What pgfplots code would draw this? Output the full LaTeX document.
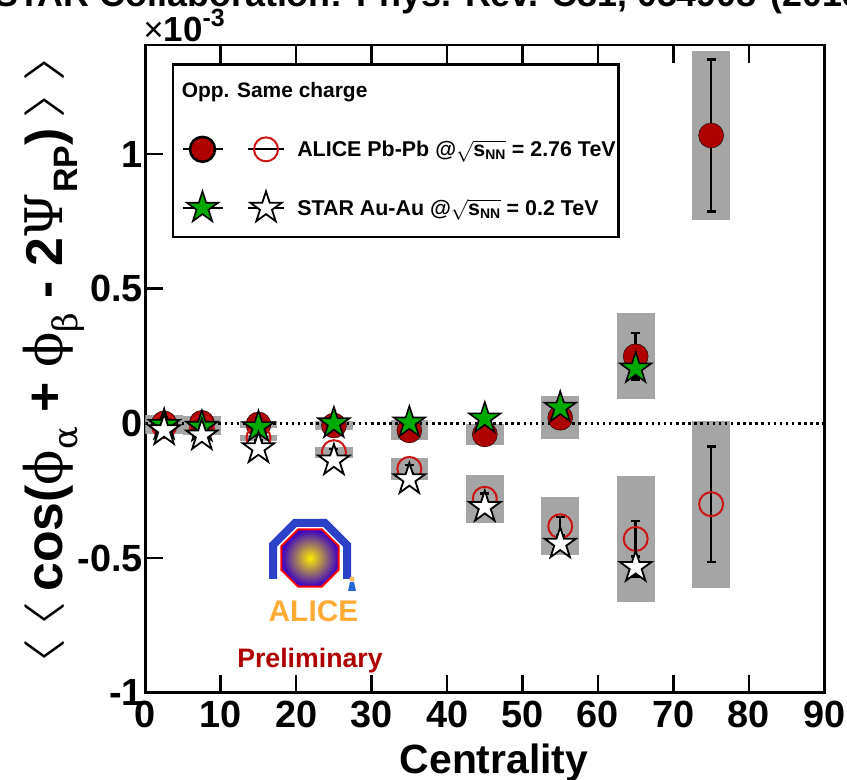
\documentclass[border=0pt]{standalone}
\usepackage{graphicx}
\usepackage{fontspec}
\setmainfont{Liberation Sans}
\newfontfamily\grk{DejaVu Serif}
\usepackage{pgfplots}
\pgfplotsset{compat=1.18}
\usepackage{pgfplotstable}

\definecolor{darkred}{RGB}{175,0,0}
\definecolor{openred}{RGB}{205,20,20}
\definecolor{stargreen}{RGB}{0,170,0}
\definecolor{sysgray}{RGB}{165,165,165}
\definecolor{aliceorange}{RGB}{255,172,55}
\definecolor{aliceblue}{RGB}{45,65,200}

\pgfdeclareplotmark{fstar}{%
  \pgfpathmoveto{\pgfpointpolar{90}{\pgfplotmarksize}}%
  \pgfpathlineto{\pgfpointpolar{126}{0.382\pgfplotmarksize}}%
  \pgfpathlineto{\pgfpointpolar{162}{\pgfplotmarksize}}%
  \pgfpathlineto{\pgfpointpolar{198}{0.382\pgfplotmarksize}}%
  \pgfpathlineto{\pgfpointpolar{234}{\pgfplotmarksize}}%
  \pgfpathlineto{\pgfpointpolar{270}{0.382\pgfplotmarksize}}%
  \pgfpathlineto{\pgfpointpolar{306}{\pgfplotmarksize}}%
  \pgfpathlineto{\pgfpointpolar{342}{0.382\pgfplotmarksize}}%
  \pgfpathlineto{\pgfpointpolar{18}{\pgfplotmarksize}}%
  \pgfpathlineto{\pgfpointpolar{54}{0.382\pgfplotmarksize}}%
  \pgfpathclose
  \pgfusepathqfillstroke}

% ALICE, opposite charge (filled circles): centrality, value, stat, sys (units 1e-3)
\pgfplotstableread{
c y stat sys
2.5 0.000 0.010 0.030
7.5 0.002 0.010 0.025
15 -0.004 0.010 0.012
25 -0.008 0.012 0.015
35 -0.026 0.015 0.037
45 -0.041 0.020 0.040
55 0.021 0.035 0.080
65 0.249 0.087 0.160
75 1.069 0.282 0.313
}\aliceopp
% ALICE, same charge (open circles)
\pgfplotstableread{
c y stat sys
2.5 -0.010 0.010 0.030
7.5 -0.017 0.010 0.025
15 -0.054 0.010 0.012
25 -0.107 0.012 0.020
35 -0.169 0.015 0.040
45 -0.280 0.020 0.090
55 -0.382 0.035 0.107
65 -0.429 0.066 0.234
75 -0.300 0.214 0.310
}\alicesame
% STAR, opposite charge (green stars)
\pgfplotstableread{
c y stat
2.5 -0.006 0.005
7.5 -0.013 0.005
15 -0.014 0.006
25 0.000 0.008
35 0.003 0.010
45 0.018 0.013
55 0.058 0.020
65 0.204 0.035
}\staropp
% STAR, same charge (open stars)
\pgfplotstableread{
c y stat
2.5 -0.026 0.005
7.5 -0.045 0.005
15 -0.093 0.006
25 -0.138 0.008
35 -0.208 0.010
45 -0.311 0.013
55 -0.447 0.020
65 -0.534 0.037
}\starsame

\pgfplotsset{
  mkAopp/.style={only marks, mark=*, mark size=12.5bp, mark options={draw=none, fill=darkred}},
  mkAsame/.style={only marks, mark=o, mark size=12bp, mark options={draw=openred, line width=2bp, fill=none}},
  mkSopp/.style={only marks, mark=fstar, mark size=16.5bp, mark options={draw=black, line width=1.6bp, fill=stargreen}},
  mkSsame/.style={only marks, mark=fstar, mark size=16.5bp, mark options={draw=black, line width=1.8bp, fill=white}},
  errst/.style={draw=none, mark=none, forget plot,
     error bars/.cd, y dir=both, y explicit, error mark=-,
     error bar style={draw=black, solid, line width=2.5bp},
     error mark options={draw=black, solid, line width=2.5bp, mark size=4.5bp, rotate=90}},
  legH/.style={legend image code/.code={\path (0bp,-28bp) (67bp,25bp);
     \node[overlay, anchor=base west, inner sep=0pt, font=\fontsize{21}{24}\selectfont\bfseries] at (3.3bp,-6.5bp) {Opp. Same charge};}},
  legE/.style={legend image code/.code={\path (0bp,-28bp) (48.3bp,25bp);}},
  legA/.style={legend image code/.code={\path (0bp,-28bp) (67bp,28bp);
     \draw[black, solid, line width=2bp] (5.3bp,0bp) -- (45.3bp,0bp);
     \draw[##1] plot coordinates {(25.3bp,0bp)};}},
  legB/.style={legend image code/.code={\path (0bp,-28bp) (48.3bp,28bp);
     \draw[black, solid, line width=2bp] (0bp,0bp) -- (36.3bp,0bp);
     \draw[##1] plot coordinates {(18.3bp,0bp)};}},
}

\newcommand\gk[1]{{\grk\mdseries #1}}
\newcommand\lsub[1]{\raisebox{-0.3em}{\fontsize{34}{34}\selectfont #1}}
\newcommand\chev[1]{\raisebox{0.15em}{\scalebox{3.0}[1.6]{\mdseries$#1$}}}

\begin{document}
\begin{tikzpicture}
\begin{axis}[
  at={(0bp,0bp)}, anchor=south west,
  scale only axis, width=679bp, height=647.7bp,
  xmin=0, xmax=90, ymin=-1, ymax=1.405,
  xtick={0,10,20,30,40,50,60,70,80,90},
  xticklabels={0,10,20,30,40,50,60,70,80,90},
  ytick={-1,-0.5,0,0.5,1},
  yticklabels={-1,-0.5,0,0.5,1},
  minor tick num=0,
  tick align=inside, major tick length=18bp,
  xtick pos=both, ytick pos=left,
  axis line style={line width=2.5bp},
  every tick/.style={black, line width=2.5bp},
  ticklabel style={font=\fontsize{38}{40}\selectfont\bfseries},
  xticklabel style={yshift=-5bp},
  yticklabel style={xshift=1bp},
  legend columns=2,
  legend cell align=left,
  legend style={at={(rel axis cs:0.0389,0.9717)}, anchor=north west,
     draw=black, line width=2.5bp, fill=white,
     inner xsep=3bp, inner ysep=0bp, row sep=0pt, column sep=0pt,
     nodes={inner sep=0pt},
     font=\fontsize{21.5}{24}\selectfont\bfseries},
]
% systematic boxes
\addplot[draw=none, mark=none, forget plot, error bars/.cd, y dir=both, y explicit, error mark=none,
   error bar style={draw=sysgray, solid, line width=37.7bp}] table[x=c, y=y, y error=sys] {\aliceopp};
\addplot[draw=none, mark=none, forget plot, error bars/.cd, y dir=both, y explicit, error mark=none,
   error bar style={draw=sysgray, solid, line width=37.7bp}] table[x=c, y=y, y error=sys] {\alicesame};
% zero line
\addplot[forget plot, black, line width=2.5bp, dash pattern=on 2.5bp off 3.6bp] coordinates {(0,0) (90,0)};
% ALICE
\addplot[errst] table[x=c, y=y, y error=stat] {\aliceopp};
\addplot[mkAopp, forget plot] table[x=c, y=y] {\aliceopp};
\addplot[errst] table[x=c, y=y, y error=stat] {\alicesame};
\addplot[mkAsame, forget plot] table[x=c, y=y] {\alicesame};
% STAR
\addplot[errst] table[x=c, y=y, y error=stat] {\staropp};
\addplot[mkSopp, forget plot] table[x=c, y=y] {\staropp};
\addplot[errst] table[x=c, y=y, y error=stat] {\starsame};
\addplot[mkSsame, forget plot] table[x=c, y=y] {\starsame};
% legend
\addlegendimage{legH}\addlegendentry{}
\addlegendimage{legE}\addlegendentry{}
\addlegendimage{mkAopp, legA}\addlegendentry{}
\addlegendimage{mkAsame, legB}\addlegendentry{ALICE Pb-Pb @$\sqrt{\mbox{s}_{\mbox{\fontsize{14}{14}\selectfont NN}}}$ = 2.76 TeV}
\addlegendimage{mkSopp, legA}\addlegendentry{}
\addlegendimage{mkSsame, legB}\addlegendentry{STAR Au-Au @$\sqrt{\mbox{s}_{\mbox{\fontsize{14}{14}\selectfont NN}}}$ = 0.2 TeV}
\end{axis}

% ALICE logo (approximation)
\begin{scope}[shift={(164.7bp,134.7bp)}, x=1bp, y=1bp]
  \draw[aliceblue, line width=8bp, line join=miter] (-37,-21) -- (-37,13) -- (-15,35) -- (15,35) -- (37,13) -- (37,-21);
  \shade[inner color=yellow!85!orange, outer color=blue!55!violet]
     (22.5:31) -- (67.5:31) -- (112.5:31) -- (157.5:31) -- (202.5:31) -- (247.5:31) -- (292.5:31) -- (337.5:31) -- cycle;
  \draw[red, line width=2bp] (22.5:31) -- (67.5:31) -- (112.5:31) -- (157.5:31) -- (202.5:31) -- (247.5:31) -- (292.5:31) -- (337.5:31) -- cycle;
  \fill[aliceorange!80!white] (42,-21) circle (2.6);
  \fill[aliceblue!80!cyan] (40,-24) -- (44,-24) -- (46,-33) -- (38,-33) -- cycle;
\end{scope}
\node[anchor=base, inner sep=0pt, text=aliceorange, font=\fontsize{30}{32}\selectfont\bfseries] at (168.2bp,71bp) {ALICE};
\node[anchor=base, inner sep=0pt, text=darkred, font=\fontsize{26.8}{28}\selectfont\bfseries] at (164.7bp,25.7bp) {Preliminary};

% axis titles
\node[anchor=base, inner sep=0pt, font=\fontsize{41}{44}\selectfont\bfseries] at (348.7bp,-80.3bp) {Centrality};
\node[rotate=90, anchor=base, inner sep=0pt, font=\fontsize{52}{54}\selectfont\bfseries] at (-83bp,332.7bp)
  {\chev{\langle}\,\chev{\langle}\,cos(\gk{ϕ}\lsub{\gk{α}} + \gk{ϕ}\lsub{\gk{β}} - 2\gk{Ψ}\lsub{RP})\,\chev{\rangle}\,\chev{\rangle}};
\node[anchor=base west, inner sep=0pt, font=\fontsize{35}{38}\selectfont\bfseries] at (-2bp,650.7bp)
  {{\mdseries×}10\raisebox{0.45em}{\fontsize{25}{25}\selectfont -3}};

% clipped title at the very top
\node[anchor=base east, inner sep=0pt, font=\fontsize{36}{38}\selectfont\bfseries] at (611.7bp,685.7bp) {STAR Collaboration: Phys. Rev. C81, 054908};
\node[anchor=base west, inner sep=0pt, font=\fontsize{36}{38}\selectfont\bfseries] at (624.7bp,685.7bp) {(2010)};

\pgfresetboundingbox
\path[use as bounding box] (-145.3bp,-87.3bp) rectangle (701.7bp,692.7bp);
\end{tikzpicture}
\end{document}
